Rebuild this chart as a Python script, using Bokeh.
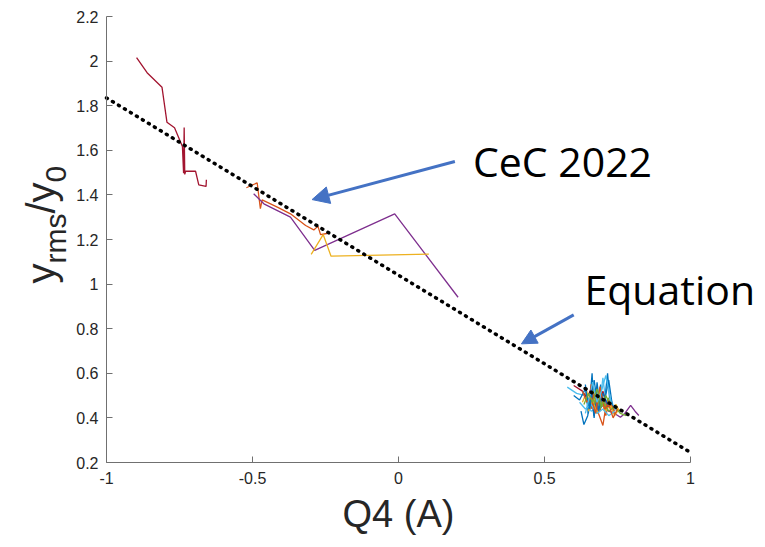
from bokeh.plotting import figure
from bokeh.models import Range1d, FixedTicker, Label, Arrow, NormalHead
from bokeh.embed import file_html
from bokeh.resources import INLINE

# ---------------- data ----------------
x_ticks = [-1, -0.5, 0, 0.5, 1]
x_tick_labels = ["-1", "-0.5", "0", "0.5", "1"]
y_ticks = [0.2, 0.4, 0.6, 0.8, 1, 1.2, 1.4, 1.6, 1.8, 2, 2.2]
y_tick_labels = ["0.2", "0.4", "0.6", "0.8", "1", "1.2", "1.4", "1.6", "1.8", "2", "2.2"]

# equation (dotted) line
eq_x = [-1.0, 1.0]
eq_y = [1.835, 0.245]

# CeC 2022 runs
run1_x = [-0.897, -0.861, -0.810, -0.793, -0.767, -0.740, -0.736, -0.734, -0.732, -0.729, -0.695, -0.684, -0.659, -0.658]
run1_y = [2.016, 1.948, 1.883, 1.726, 1.701, 1.617, 1.497, 1.702, 1.492, 1.506, 1.506, 1.445, 1.438, 1.468]

run2_x = [-0.521, -0.484, -0.473, -0.467, -0.415, -0.370, -0.318, -0.290, -0.276, -0.267, -0.241]
run2_y = [1.432, 1.454, 1.338, 1.378, 1.345, 1.315, 1.263, 1.243, 1.260, 1.222, 1.228]

run3_x = [-0.496, -0.461, -0.370, -0.287, -0.013, 0.204]
run3_y = [1.405, 1.360, 1.300, 1.151, 1.315, 0.941]

run4_x = [-0.299, -0.258, -0.231, 0.104]
run4_y = [1.133, 1.222, 1.125, 1.134]

# cluster near Q4 ~ 0.7
c1_x = [0.625, 0.635, 0.648, 0.655, 0.663, 0.668, 0.676, 0.684, 0.692, 0.700, 0.708, 0.716, 0.724]
c1_y = [0.43, 0.37, 0.41, 0.47, 0.60, 0.46, 0.52, 0.44, 0.55, 0.45, 0.50, 0.60, 0.47]
c2_x = [0.64, 0.65, 0.66, 0.67, 0.68, 0.69, 0.70, 0.71, 0.72, 0.73, 0.74]
c2_y = [0.50, 0.46, 0.55, 0.45, 0.51, 0.43, 0.49, 0.41, 0.47, 0.44, 0.42]
c3_x = [0.63, 0.645, 0.655, 0.665, 0.68, 0.69, 0.705, 0.715, 0.73, 0.745, 0.76]
c3_y = [0.47, 0.52, 0.44, 0.50, 0.46, 0.53, 0.43, 0.48, 0.44, 0.46, 0.42]
c4_x = [0.66, 0.68, 0.70, 0.72, 0.74, 0.76, 0.775, 0.795, 0.81, 0.823]
c4_y = [0.48, 0.45, 0.46, 0.43, 0.42, 0.403, 0.42, 0.456, 0.43, 0.411]
c5_x = [0.65, 0.66, 0.67, 0.685, 0.695, 0.71, 0.72, 0.735, 0.75]
c5_y = [0.49, 0.45, 0.53, 0.47, 0.50, 0.44, 0.49, 0.45, 0.43]
c6_x = [0.578, 0.61, 0.64, 0.65, 0.66, 0.675, 0.69, 0.70, 0.712, 0.725, 0.74, 0.76]
c6_y = [0.538, 0.51, 0.50, 0.45, 0.43, 0.44, 0.47, 0.58, 0.45, 0.49, 0.44, 0.425]
c7_x = [0.600, 0.63, 0.645, 0.66, 0.67, 0.68, 0.69, 0.70, 0.715, 0.73]
c7_y = [0.545, 0.52, 0.49, 0.53, 0.41, 0.50, 0.46, 0.52, 0.45, 0.47]
c8_x = [0.64, 0.65, 0.66, 0.67, 0.68, 0.69, 0.705, 0.72, 0.735]
c8_y = [0.55, 0.42, 0.51, 0.40, 0.56, 0.44, 0.47, 0.57, 0.43]
c9_x = [0.66, 0.67, 0.685, 0.70, 0.71, 0.72, 0.74]
c9_y = [0.44, 0.51, 0.42, 0.366, 0.45, 0.48, 0.43]
c10_x = [0.65, 0.665, 0.68, 0.695, 0.71, 0.725, 0.74, 0.755]
c10_y = [0.43, 0.48, 0.42, 0.47, 0.43, 0.46, 0.41, 0.44]
c11_x = [0.62, 0.64, 0.66, 0.68, 0.70, 0.72, 0.74]
c11_y = [0.47, 0.44, 0.46, 0.42, 0.44, 0.41, 0.43]
c12_x = [0.67, 0.68, 0.69, 0.70, 0.72, 0.74, 0.76, 0.78]
c12_y = [0.46, 0.50, 0.44, 0.48, 0.43, 0.45, 0.42, 0.41]
c13_x = [0.60, 0.62, 0.64, 0.655, 0.67, 0.685, 0.70, 0.72]
c13_y = [0.50, 0.48, 0.53, 0.44, 0.57, 0.43, 0.51, 0.45]
c14_x = [0.63, 0.645, 0.66, 0.675, 0.69, 0.705, 0.72, 0.735, 0.75]
c14_y = [0.52, 0.47, 0.49, 0.42, 0.54, 0.44, 0.46, 0.40, 0.44]
c15_x = [0.64, 0.655, 0.665, 0.68, 0.695, 0.71, 0.73]
c15_y = [0.42, 0.50, 0.56, 0.47, 0.52, 0.59, 0.46]
c16_x = [0.635, 0.65, 0.665, 0.68, 0.695, 0.71, 0.725]
c16_y = [0.46, 0.51, 0.47, 0.53, 0.45, 0.50, 0.46]

# annotations
cec_text = "CeC 2022"
cec_pos = (0.255, 1.552)
cec_arrow = (0.193, 1.550, -0.296, 1.379)
eq_text = "Equation"
eq_pos = (0.637, 0.980)
eq_arrow = (0.600, 0.862, 0.421, 0.732)

# ---------------- styling ----------------
BLUE = "#0072BD"; ORANGE = "#D95319"; YELLOW = "#EDB120"; PURPLE = "#7E2F8E"
GREEN = "#77AC30"; LBLUE = "#4DBEEE"; CRIMSON = "#A2142F"
ARROW_C = "#4472C4"
FONT = "Liberation Sans"
TXT = "#262626"

W, H = 757, 539
# frame fills the canvas; axes are pinned at x=-1 / y=0.2
p = figure(width=W, height=H, output_backend="svg", toolbar_location=None,
           x_range=Range1d(-1.363014, 1.229452), y_range=Range1d(-0.145291, 2.271749),
           min_border_left=0, min_border_right=0, min_border_top=0, min_border_bottom=0)
p.outline_line_color = None
p.xgrid.visible = False
p.ygrid.visible = False
p.background_fill_color = "white"
p.border_fill_color = "white"

p.xaxis.fixed_location = 0.2
p.yaxis.fixed_location = -1
p.xaxis.bounds = (-1, 1)
p.yaxis.bounds = (0.2, 2.2)
p.xaxis.ticker = FixedTicker(ticks=x_ticks)
p.yaxis.ticker = FixedTicker(ticks=y_ticks)
p.xaxis.major_label_overrides = {t: l for t, l in zip(x_ticks, x_tick_labels)}
p.yaxis.major_label_overrides = {t: l for t, l in zip(y_ticks, y_tick_labels)}
for ax in (p.xaxis, p.yaxis):
    ax.axis_line_color = "#707070"
    ax.axis_line_width = 1
    ax.major_tick_line_color = "#707070"
    ax.major_tick_in = 6
    ax.major_tick_out = 0
    ax.minor_tick_line_color = None
    ax.major_label_text_font = FONT
    ax.major_label_text_font_size = "16px"
    ax.major_label_text_color = TXT
p.xaxis.major_label_standoff = 9
p.yaxis.major_label_standoff = 8
p.xaxis.axis_label = "Q4 (A)"
p.xaxis.axis_label_text_font = FONT
p.xaxis.axis_label_text_font_size = "38px"
p.xaxis.axis_label_text_font_style = "normal"
p.xaxis.axis_label_text_color = TXT
p.xaxis.axis_label_standoff = 6

# data lines
lw = 1.3
p.line(run1_x, run1_y, line_color=CRIMSON, line_width=lw)
p.line(run2_x, run2_y, line_color=ORANGE, line_width=lw)
p.line(run3_x, run3_y, line_color=PURPLE, line_width=lw)
p.line(run4_x, run4_y, line_color=YELLOW, line_width=lw)

cluster = [(c1_x, c1_y, BLUE), (c2_x, c2_y, ORANGE), (c3_x, c3_y, YELLOW),
           (c4_x, c4_y, PURPLE), (c5_x, c5_y, GREEN), (c6_x, c6_y, LBLUE),
           (c7_x, c7_y, CRIMSON), (c8_x, c8_y, BLUE), (c9_x, c9_y, ORANGE),
           (c10_x, c10_y, YELLOW), (c11_x, c11_y, LBLUE), (c12_x, c12_y, GREEN),
           (c13_x, c13_y, BLUE), (c14_x, c14_y, ORANGE), (c15_x, c15_y, LBLUE),
           (c16_x, c16_y, GREEN)]
for cx, cy, col in cluster:
    p.line(cx, cy, line_color=col, line_width=lw)

# equation dotted line
p.line(eq_x, eq_y, line_color="black", line_width=3.5, line_dash="1 6", line_cap="round")

# y axis label composed as y_rms / y_0 (rotated), screen units from frame bottom-left
MAIN = 40
SUB = 30
adv_y = 0.5 * MAIN
adv_rms = (0.333 + 0.833 + 0.5) * SUB
adv_slash_y = (0.278 + 0.5) * MAIN
start = H - 283
base_main = 40
base_sub = 55
pieces = [("y", MAIN, base_main, start),
          ("rms", SUB, base_sub, start + adv_y),
          ("/y", MAIN, base_main, start + adv_y + adv_rms),
          ("0", SUB, base_sub, start + adv_y + adv_rms + adv_slash_y)]
for txt, fs, bx, sy in pieces:
    p.add_layout(Label(x=bx, y=sy, x_units="screen", y_units="screen", text=txt,
                       angle=1.5707963, text_font=FONT, text_font_size=f"{fs}px",
                       text_color=TXT, text_align="left", text_baseline="alphabetic"))

# annotations
p.add_layout(Label(x=cec_pos[0], y=cec_pos[1], text=cec_text, text_font="Open Sans",
                   text_font_size="41px", text_color="black", text_baseline="alphabetic"))
p.add_layout(Label(x=eq_pos[0], y=eq_pos[1], text=eq_text, text_font="Open Sans",
                   text_font_size="41px", text_color="black", text_baseline="alphabetic"))
for (xs, ys, xe, ye), sz in ((cec_arrow, 17), (eq_arrow, 15)):
    p.add_layout(Arrow(x_start=xs, y_start=ys, x_end=xe, y_end=ye,
                       line_color=ARROW_C, line_width=3,
                       end=NormalHead(size=sz, fill_color=ARROW_C, line_color=ARROW_C, line_width=1)))

open("out.html", "w").write(file_html(p, INLINE))
